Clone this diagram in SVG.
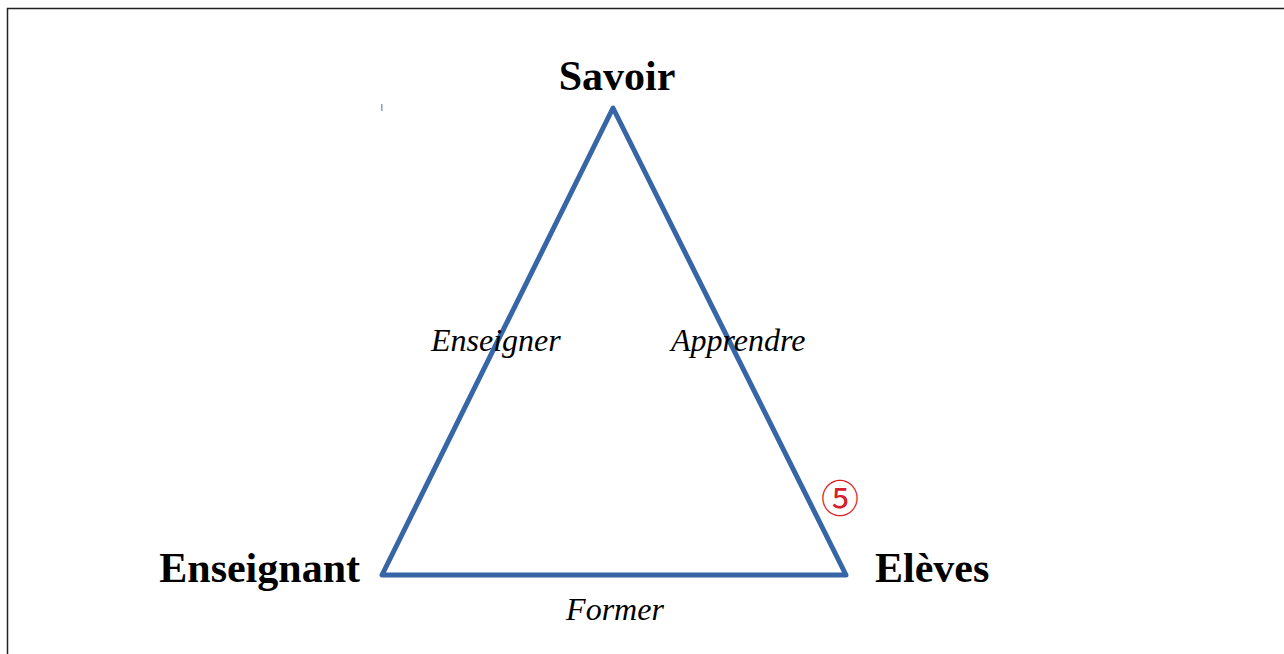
<svg xmlns="http://www.w3.org/2000/svg" width="1284" height="654" viewBox="0 0 1284 654">
<style>
.lbl{font-family:"Liberation Serif","Times New Roman",serif;font-weight:bold;font-size:42px;fill:#000}
.rel{font-family:"Liberation Serif","Times New Roman",serif;font-style:italic;font-size:32px;fill:#000}
.edge{stroke:#3666a6;stroke-width:5;fill:none;stroke-linejoin:round;stroke-linecap:round}
</style>
<rect width="1284" height="654" fill="#fff"/>
<path d="M7.5 654 V8.5 H1284" fill="none" stroke="#222" stroke-width="1.5"/>
<rect x="381" y="104" width="1.5" height="7" fill="#7f9fd0"/>
<g id="connectors">
<path class="edge" d="M613 108 L382 575 L846 575 Z"/>
</g>
<g id="savoir"><text class="lbl" x="617" y="90" text-anchor="middle">Savoir</text></g>
<g id="enseignant"><text class="lbl" x="360" y="582" text-anchor="end">Enseignant</text></g>
<g id="eleves"><text class="lbl" x="875" y="582">Elèves</text></g>
<g id="enseigner"><text class="rel" x="431" y="351">Enseigner</text></g>
<g id="apprendre"><text class="rel" x="671" y="351">Apprendre</text></g>
<g id="former"><text class="rel" x="615" y="620" text-anchor="middle">Former</text></g>
<g id="marker5"><text x="840" y="512" text-anchor="middle" font-family="'Noto Sans CJK JP','DejaVu Sans',sans-serif" font-size="38" fill="#d4202a">⑤</text></g>
</svg>
